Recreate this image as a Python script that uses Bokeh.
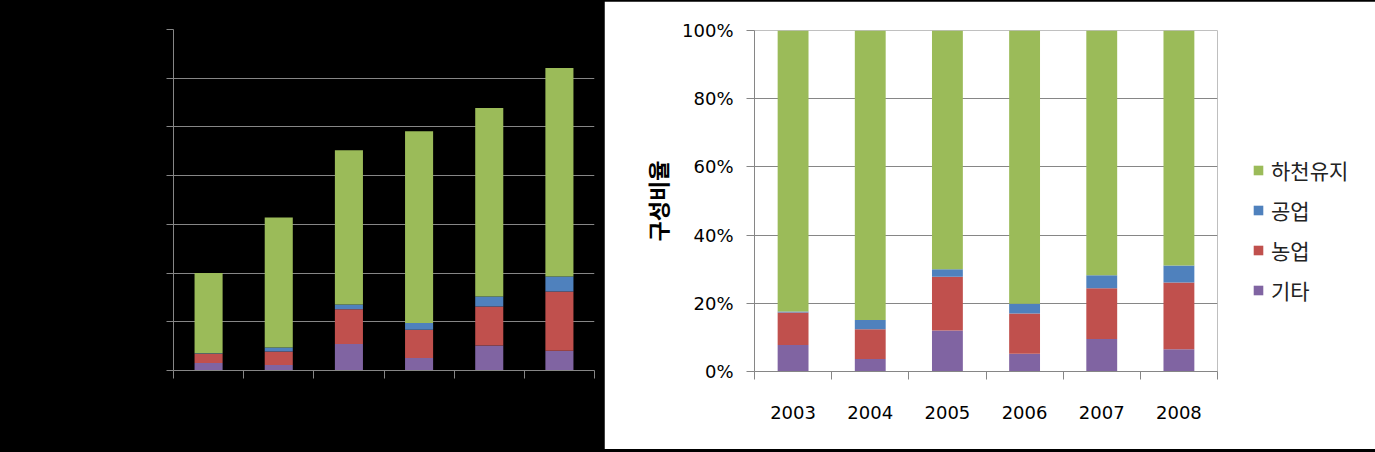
from bokeh.plotting import figure
from bokeh.layouts import row
from bokeh.models import (FixedTicker, PrintfTickFormatter, Range1d, Legend, LegendItem,
                          ColumnDataSource, Title)
from bokeh.embed import file_html
from bokeh.resources import INLINE

# ---- data ----
years = [2003, 2004, 2005, 2006, 2007, 2008]
series_names = ["기타", "농업", "공업", "하천유지"]          # bottom -> top
series_colors = ["#8064A2", "#C0504D", "#4F81BD", "#9BBB59"]
gita = [78, 57, 271, 128, 256, 202]          # 기타
nongup = [95, 138, 357, 290, 402, 609]       # 농업
gongup = [3, 42, 50, 69, 102, 155]           # 공업
hacheon = [824, 1333, 1582, 1968, 1935, 2139]  # 하천유지
left_ticks = [0, 500, 1000, 1500, 2000, 2500, 3000, 3500]
pct_ticks = [0, 20, 40, 60, 80, 100]
y_title = "구성비율"

values = [gita, nongup, gongup, hacheon]
totals = [sum(v[i] for v in values) for i in range(len(years))]
keys = ["s0", "s1", "s2", "s3"]

src_abs = ColumnDataSource(dict(x=years, **{k: v for k, v in zip(keys, values)}))
src_pct = ColumnDataSource(dict(x=years, **{k: [100.0 * a / t for a, t in zip(v, totals)]
                                             for k, v in zip(keys, values)}))

GRID = "#868686"
KFONT = "Noto Sans CJK KR"
boundaries = [y - 0.5 for y in years] + [years[-1] + 0.5]


def style_axes(p, label_color):
    for ax in (p.xaxis[0], p.yaxis[0]):
        ax.axis_line_color = GRID
        ax.major_tick_line_color = GRID
        ax.minor_tick_line_color = GRID
        ax.major_label_text_font = "DejaVu Sans"
        ax.major_label_text_font_size = "18px"
        ax.major_label_text_color = label_color
        ax.major_tick_in = 0
        ax.minor_tick_in = 0
    p.xaxis.ticker = FixedTicker(ticks=years, minor_ticks=boundaries)
    p.yaxis.major_tick_out = 8
    p.yaxis.minor_tick_out = 0
    p.yaxis.major_label_standoff = 13
    p.xaxis.major_tick_out = 0
    p.xaxis.minor_tick_out = 8
    p.xaxis.major_label_standoff = 26
    p.xgrid.grid_line_color = None
    p.ygrid.grid_line_color = GRID


# ---- left chart (black; its labels are black on black in the reference) ----
pl = figure(frame_width=421, frame_height=341, min_border_left=173, min_border_right=10,
            min_border_top=29, min_border_bottom=82,
            x_range=Range1d(years[0] - 0.5, years[-1] + 0.5), y_range=Range1d(0, left_ticks[-1]),
            output_backend="svg", toolbar_location=None)
pl.background_fill_color = "black"
pl.border_fill_color = "black"
pl.outline_line_color = None
pl.vbar_stack(keys, x="x", width=0.4, color=series_colors, source=src_abs, line_color=None)
style_axes(pl, "black")
pl.ygrid.ticker = FixedTicker(ticks=left_ticks)
pl.yaxis.ticker = FixedTicker(ticks=left_ticks)
pl.yaxis.major_tick_out = 7

# ---- right chart (white, 100% stacked) ----
pr = figure(frame_width=463, frame_height=341, min_border_left=150, min_border_right=154,
            min_border_top=28, min_border_bottom=79,
            x_range=Range1d(years[0] - 0.5, years[-1] + 0.5), y_range=Range1d(0, 100),
            output_backend="svg", toolbar_location=None, margin=(1, 0, 0, 0))
pr.background_fill_color = "white"
pr.border_fill_color = "white"
pr.outline_line_color = None
rends = pr.vbar_stack(keys, x="x", width=0.4, color=series_colors, source=src_pct, line_color=None)
style_axes(pr, "black")
pr.ygrid.ticker = FixedTicker(ticks=pct_ticks)
pr.yaxis.ticker = FixedTicker(ticks=pct_ticks)
pr.yaxis.formatter = PrintfTickFormatter(format="%d%%")

ytitle = Title(text=y_title, align="center", text_font=KFONT, text_font_size="22px",
               text_font_style="bold", text_color="black", standoff=13)
pr.add_layout(ytitle, "left")

items = [LegendItem(label=series_names[i], renderers=[rends[i]]) for i in (3, 2, 1, 0)]
legend = Legend(items=items, location=(35, 66), padding=0, margin=0, spacing=10,
                glyph_width=12, glyph_height=12, label_height=21, label_standoff=7,
                label_text_font=KFONT, label_text_font_size="21px",
                label_text_color="#222222", border_line_color=None,
                background_fill_alpha=0)
pr.add_layout(legend, "right")

p = row(pl, pr, spacing=0)

TEMPLATE = """{% block preamble %}<style>html,body{margin:0 !important;padding:0;background:#000 !important;overflow:hidden}</style>{% endblock %}"""
open("out.html", "w").write(file_html(p, INLINE, template=TEMPLATE))
